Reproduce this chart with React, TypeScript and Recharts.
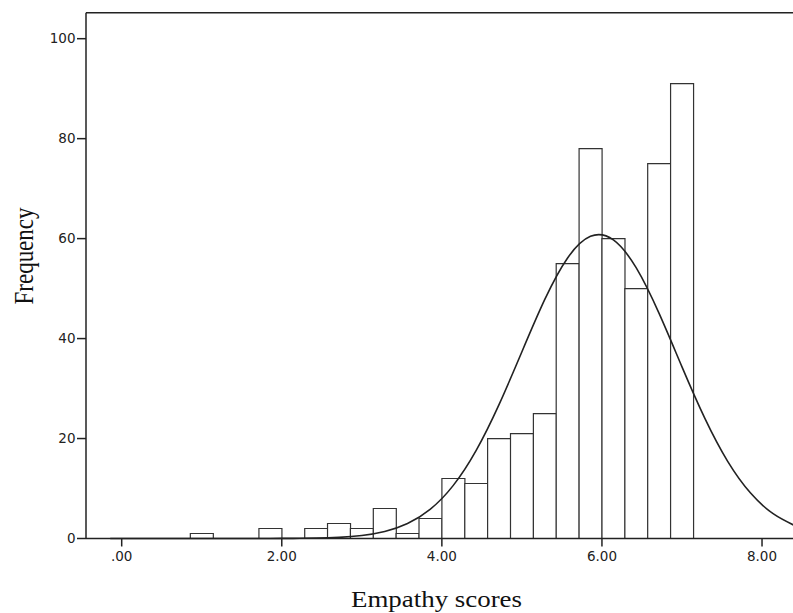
import React from 'react';
import { ComposedChart, Bar, Line, XAxis, YAxis, ReferenceLine, Label } from 'recharts';

// Histogram bins (centres of bins of width 2/7 on the Empathy scale)
const binCenters = [
  -0.143, 0.143, 0.429, 0.714, 1.0, 1.286, 1.571, 1.857, 2.143, 2.429, 2.714,
  3.0, 3.286, 3.571, 3.857, 4.143, 4.429, 4.714, 5.0, 5.286, 5.571, 5.857,
  6.143, 6.429, 6.714, 7.0, 7.286, 7.571, 7.857, 8.143, 8.429,
];

// Frequency of each bin
const frequencies = [
  0, 0, 0, 0, 1, 0, 0, 2, 0, 2, 3,
  2, 6, 1, 4, 12, 11, 20, 21, 25, 55, 78,
  60, 50, 75, 91, 0, 0, 0, 0, 0,
];

// Height of the fitted normal curve read at each bin centre
const normalCurve = [
  0, 0, 0, 0, 0, 0, 0, 0.01, 0.03, 0.08, 0.23,
  0.59, 1.39, 2.99, 5.88, 10.63, 17.63, 26.78, 37.36, 47.83, 56.13, 60.46,
  59.74, 54.13, 45.03, 34.34, 24.03, 15.44, 9.09, 4.91, 2.43,
];

const xTicks = [0, 2, 4, 6, 8];
const xTickLabels = ['.00', '2.00', '4.00', '6.00', '8.00'];
const yTicks = [0, 20, 40, 60, 80, 100];
const yMax = 105.2;
const xDomain: [number, number] = [-0.446, 8.387];

const data = binCenters.map((x, i) => ({ x, count: frequencies[i], curve: normalCurve[i] }));

const tickStyle = { fontFamily: 'DejaVu Sans', fontSize: 13.5, fill: '#222' };
const axisColor = '#222';

const XTitle = (props: any) => {
  const vb = props.viewBox || { x: 0, y: 0, width: 0, height: 0 };
  const cx = vb.x + vb.width / 2 - 3;
  const by = vb.y + 68;
  return (
    <text
      transform={`translate(${cx},${by}) scale(1.17,1)`}
      textAnchor="middle"
      fontFamily="Liberation Serif"
      fontSize={23}
      fill="#111"
    >
      Empathy scores
    </text>
  );
};

const YTitle = () => {
  const bx = 32.5;
  const cy = 256;
  return (
    <text
      transform={`translate(${bx},${cy}) scale(1.2,1) rotate(-90)`}
      textAnchor="middle"
      fontFamily="Liberation Serif"
      fontSize={23}
      fill="#111"
    >
      Frequency
    </text>
  );
};

export default function App() {
  return (
    <div style={{ position: 'absolute', left: 0, top: 0, background: '#fff' }}>
      <ComposedChart
        width={793}
        height={613}
        data={data}
        margin={{ top: 12.7, right: 0, bottom: 24.5, left: 16 }}
        barCategoryGap={0}
        barGap={0}
      >
        <XAxis
          dataKey="x"
          type="number"
          domain={xDomain}
          allowDataOverflow
          ticks={xTicks}
          interval={0}
          tickFormatter={(v: number) => xTickLabels[xTicks.indexOf(v)] ?? ''}
          tick={tickStyle}
          tickSize={8}
          tickMargin={5}
          height={50}
          axisLine={{ stroke: axisColor, strokeWidth: 1.5 }}
          tickLine={{ stroke: axisColor, strokeWidth: 1.5 }}
        >
          <Label content={<XTitle />} />
        </XAxis>
        <YAxis
          type="number"
          domain={[0, yMax]}
          ticks={yTicks}
          interval={0}
          tick={tickStyle}
          tickSize={9}
          tickMargin={1.5}
          width={70}
          axisLine={{ stroke: axisColor, strokeWidth: 1.5 }}
          tickLine={{ stroke: axisColor, strokeWidth: 1.5 }}
        >
          <Label content={<YTitle />} />
        </YAxis>
        <ReferenceLine y={yMax} stroke={axisColor} strokeWidth={1.5} />
        <Bar
          dataKey="count"
          fill="#fff"
          stroke="#333"
          strokeWidth={1.2}
          isAnimationActive={false}
        />
        <Line
          dataKey="curve"
          type="natural"
          dot={false}
          activeDot={false}
          stroke="#222"
          strokeWidth={1.6}
          isAnimationActive={false}
        />
      </ComposedChart>
    </div>
  );
}
